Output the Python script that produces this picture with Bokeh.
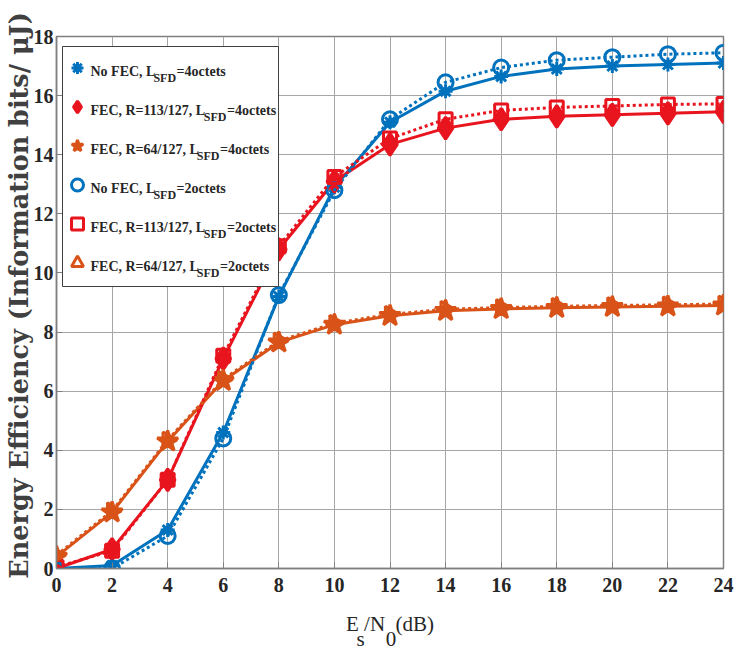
import numpy as np
from bokeh.plotting import figure
from bokeh.models import Range1d, Legend, LegendItem, Label, FixedTicker, BoxAnnotation
from bokeh.core.properties import value
from bokeh.embed import file_html
from bokeh.resources import INLINE

# ---------------- data ----------------
snr_db = [0, 2, 4, 6, 8, 10, 12, 14, 16, 18, 20, 22, 24]
nofec_4 = [0.0, 0.1, 1.3, 4.6, 9.2, 12.9, 15.1, 16.15, 16.65, 16.9, 17.0, 17.05, 17.1]
fec113_4 = [0.0, 0.65, 3.0, 7.1, 10.8, 13.1, 14.35, 14.9, 15.2, 15.3, 15.35, 15.4, 15.45]
fec64_4 = [0.4, 1.9, 4.3, 6.35, 7.65, 8.25, 8.55, 8.72, 8.78, 8.82, 8.85, 8.87, 8.9]
nofec_2 = [-0.05, 0.0, 1.1, 4.4, 9.25, 12.8, 15.2, 16.45, 16.95, 17.2, 17.3, 17.4, 17.45]
fec113_2 = [0.05, 0.6, 3.0, 7.2, 10.9, 13.25, 14.55, 15.2, 15.5, 15.6, 15.65, 15.7, 15.72]
fec64_2 = [0.45, 1.95, 4.35, 6.4, 7.7, 8.3, 8.6, 8.77, 8.83, 8.87, 8.9, 8.92, 8.95]

x_ticks = list(range(0, 25, 2))
y_ticks = list(range(0, 19, 2))

legend_prefix = ["No FEC, L", "FEC, R=113/127, L", "FEC, R=64/127, L",
                 "No FEC, L", "FEC, R=113/127, L", "FEC, R=64/127, L"]
legend_sub = "SFD"
legend_suffix = ["=4octets", "=4octets", "=4octets",
                 "=2octets", "=2octets", "=2octets"]

y_label = "Energy Efficiency (Information bits/ \u03bcJ)"
NB = "\u00a0"
# E_s/N_0 (dB): main line and subscript line
x_label = "E" + NB + "/N" + NB * 2 + "(dB)" + "\n" + NB * 2 + "s" + NB * 4 + "0"

# ---------------- style ----------------
BLUE = "#0072BD"
RED = "#E8141E"
ORANGE = "#D95319"
GRAY = "#7f7f7f"
TXT = "#262626"
SERIF = "Liberation Serif"

FW, FH = 667, 532

p = figure(frame_width=FW, frame_height=FH,
           min_border_left=44, min_border_right=17, min_border_top=36, min_border_bottom=86,
           x_range=Range1d(0, 24), y_range=Range1d(0, 18),
           output_backend="svg", toolbar_location=None)
p.background_fill_color = "white"
p.border_fill_color = "white"
p.outline_line_color = GRAY
p.outline_line_width = 1.5

p.xaxis.ticker = FixedTicker(ticks=x_ticks)
p.yaxis.ticker = FixedTicker(ticks=y_ticks)
for ax in (p.xaxis[0], p.yaxis[0]):
    ax.axis_line_color = GRAY
    ax.axis_line_width = 1.5
    ax.major_tick_line_color = GRAY
    ax.major_tick_in = 6
    ax.major_tick_out = 0
    ax.minor_tick_line_color = None
    ax.major_label_text_font = SERIF
    ax.major_label_text_font_style = "bold"
    ax.major_label_text_font_size = "20px"
    ax.major_label_text_color = TXT
p.xaxis.major_label_standoff = 9
p.yaxis.major_label_standoff = 3

p.grid.grid_line_color = "#a6a6a6"
p.grid.grid_line_width = 1

series = [
    (nofec_4, BLUE, "solid", "asterisk", 14, False, 0.0),
    (fec113_4, RED, "solid", "diamond", 22, True, 0.0),
    (fec64_4, ORANGE, "solid", "star", 22, True, 0.0),
    (nofec_2, BLUE, "3 3", "circle", 15, False, 0.0),
    (fec113_2, RED, "3 3", "square", 13, False, 0.0),
    (fec64_2, ORANGE, "3 3", "triangle", 16, False, -np.pi / 2),
]

# legend geometry (screen px, relative to the frame)
LG_X, LG_TOP, LG_W, BOX_H = 6, 10, 216, 240
PAD, ROW_H, SPACING = 2, 35, 4
GW = 30
LG_H = 6 * ROW_H + 5 * SPACING + 2 * PAD

p.add_layout(BoxAnnotation(left=LG_X, right=LG_X + LG_W, top=FH - LG_TOP, bottom=FH - LG_TOP - BOX_H,
                           left_units="screen", right_units="screen",
                           top_units="screen", bottom_units="screen",
                           fill_color="white", fill_alpha=1,
                           line_color="#404040", line_width=1, line_alpha=1))

items = []
for ys, col, dash, mk, sz, filled, ang in series:
    p.line(snr_db, ys, line_color=col, line_width=3, line_dash=dash)
    sr = p.scatter(snr_db, ys, marker=mk, size=sz, angle=ang,
                   line_color=col, line_width=3,
                   fill_color=col if filled else None)
    items.append(LegendItem(label=value(" "), renderers=[sr]))

legend = Legend(items=items, location=(LG_X, FH - LG_TOP - LG_H), margin=0, padding=PAD,
                spacing=SPACING, glyph_width=GW, glyph_height=ROW_H, label_height=ROW_H,
                label_width=LG_W - 2 * PAD - GW, label_standoff=0,
                border_line_color=None, background_fill_alpha=0)
p.add_layout(legend)

# legend texts with subscripts
WB = {"N": 722, "o": 500, " ": 250, "F": 611, "E": 667, "C": 722, ",": 250, "L": 667,
      "R": 722, "=": 570, "/": 278, "c": 444, "t": 333, "e": 444, "s": 389, "S": 556,
      "D": 722}


def tw(s, fs):
    return sum(WB.get(ch, 500) for ch in s) * fs / 1000.0


LFS = 14.0
SFS = 12.0
for i in range(6):
    cy = LG_TOP + PAD + ROW_H / 2 + (ROW_H + SPACING) * i
    base = FH - cy - 5
    x0 = LG_X + 28
    p.add_layout(Label(x=x0, y=base, x_units="screen", y_units="screen", level="overlay",
                       text=legend_prefix[i], text_font=SERIF, text_font_style="bold",
                       text_font_size=f"{LFS}px", text_color=TXT, text_baseline="alphabetic"))
    xs = x0 + tw(legend_prefix[i], LFS) - 2
    p.add_layout(Label(x=xs, y=base - 7, x_units="screen", y_units="screen", level="overlay",
                       text=legend_sub, text_font=SERIF, text_font_style="bold",
                       text_font_size=f"{SFS}px", text_color=TXT, text_baseline="alphabetic"))
    xe = xs + tw(legend_sub, SFS) + 0.5
    p.add_layout(Label(x=xe, y=base, x_units="screen", y_units="screen", level="overlay",
                       text=legend_suffix[i], text_font=SERIF, text_font_style="bold",
                       text_font_size=f"{LFS}px", text_color=TXT, text_baseline="alphabetic"))

# y axis label (in the left panel, so it is not clipped to the frame)
p.add_layout(Label(x=18, y=FH / 2 + 7, x_units="screen", y_units="screen",
                   text=y_label, angle=np.pi / 2, text_align="center", text_baseline="middle",
                   text_font="DejaVu Serif", text_font_style="bold", text_font_size="25.5px",
                   text_color="#404040"), "left")

# x axis label with subscripts (single two-line label in the bottom panel)
p.add_layout(Label(x=FW / 2 - 44, y=23, x_units="screen", y_units="screen",
                   text=x_label, text_font=SERIF, text_font_size="21px",
                   text_line_height=0.65, text_color=TXT, text_baseline="top",
                   text_align="left"), "below")

open("out.html", "w").write(file_html(p, INLINE))
